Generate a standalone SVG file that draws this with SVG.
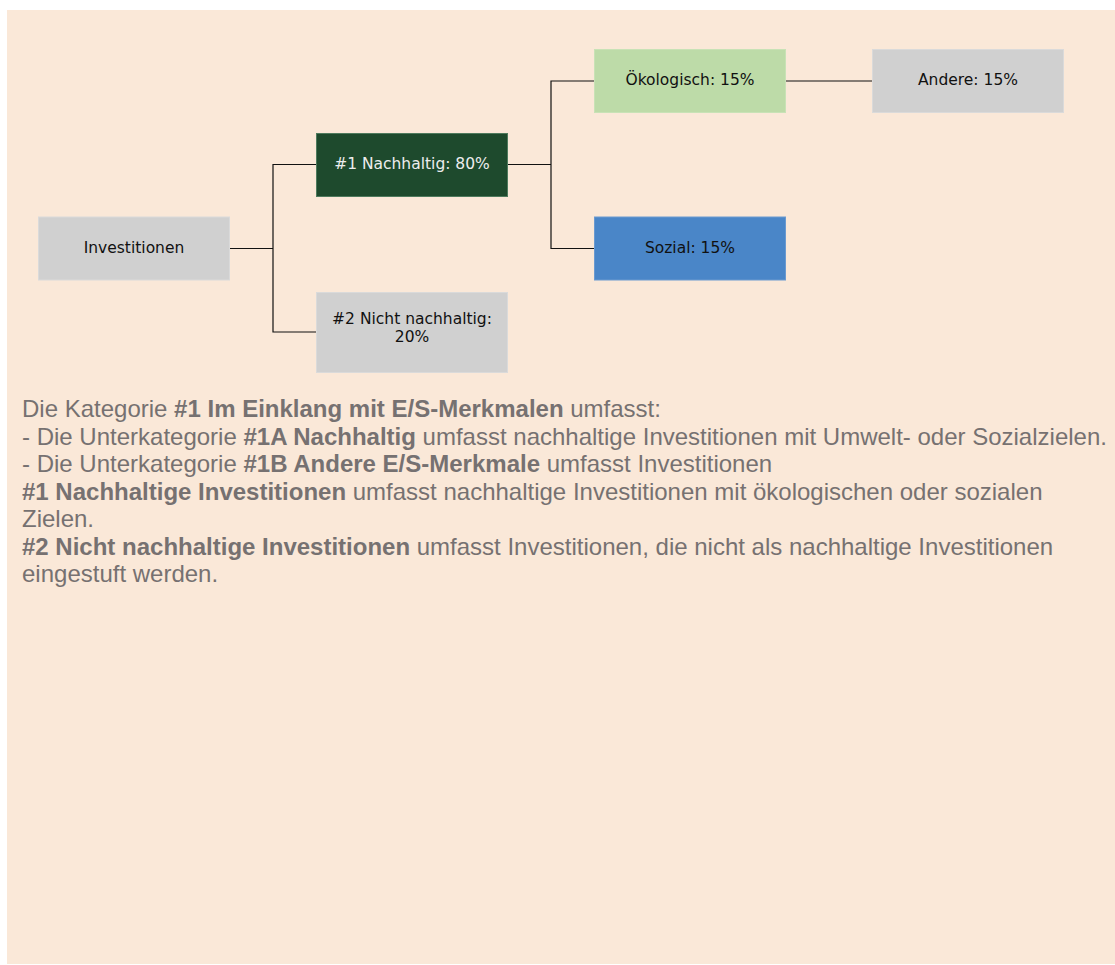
<svg xmlns="http://www.w3.org/2000/svg" width="1115" height="965" viewBox="0 0 1115 965">
<style>
.nt{font-family:"DejaVu Sans",Verdana,sans-serif;font-size:15.5px;text-anchor:middle;dominant-baseline:central;fill:#111}
.conn{stroke:#111;stroke-width:1.2;fill:none}
.body{font-family:"Liberation Sans",Arial,sans-serif;font-size:24px;fill:#767171}
.b{font-weight:bold}
</style>
<rect x="0" y="0" width="1115" height="965" fill="#ffffff"/>
<rect x="7" y="10" width="1108" height="954" fill="#FAE8D8"/>
<g id="connectors">
<polyline class="conn" points="229,248.5 273,248.5"/>
<polyline class="conn" points="317,164.5 273,164.5 273,332 317,332"/>
<polyline class="conn" points="507,164.5 551,164.5"/>
<polyline class="conn" points="595,81 551,81 551,248.5 595,248.5"/>
<polyline class="conn" points="785,81 873,81"/>
</g>
<g id="n-investitionen">
<rect x="38.5" y="217" width="191" height="63" fill="#D0D0D0" stroke="#DADADA"/>
<text class="nt" x="134" y="247.5">Investitionen</text>
</g>
<g id="n-nachhaltig">
<rect x="316.5" y="133.5" width="191" height="63" fill="#1E4A2D" stroke="#4E7A5D"/>
<text class="nt" x="412" y="164" style="fill:#EDEDED">#1 Nachhaltig: 80%</text>
</g>
<g id="n-nicht">
<rect x="316.5" y="292.5" width="191" height="80" fill="#D0D0D0" stroke="#DADADA"/>
<text class="nt" x="412" y="319">#2 Nicht nachhaltig:</text>
<text class="nt" x="412" y="336.5">20%</text>
</g>
<g id="n-oeko">
<rect x="594.5" y="49.5" width="191" height="63" fill="#BDDBA8" stroke="#C8E2B6"/>
<text class="nt" x="690" y="80">Ökologisch: 15%</text>
</g>
<g id="n-andere">
<rect x="872.5" y="49.5" width="191" height="63" fill="#D0D0D0" stroke="#DADADA"/>
<text class="nt" x="968" y="80">Andere: 15%</text>
</g>
<g id="n-sozial">
<rect x="594.5" y="217" width="191" height="63" fill="#4A86C8" stroke="#6A9AD0"/>
<text class="nt" x="690" y="247.5">Sozial: 15%</text>
</g>
<g id="legend">
<text class="body" x="22" y="417">Die Kategorie <tspan class="b">#1 Im Einklang mit E/S-Merkmalen</tspan> umfasst:</text>
<text class="body" x="22" y="444.5">- Die Unterkategorie <tspan class="b">#1A Nachhaltig</tspan> umfasst nachhaltige Investitionen mit Umwelt- oder Sozialzielen.</text>
<text class="body" x="22" y="472">- Die Unterkategorie <tspan class="b">#1B Andere E/S-Merkmale</tspan> umfasst Investitionen</text>
<text class="body" x="22" y="499.5"><tspan class="b">#1 Nachhaltige Investitionen</tspan> umfasst nachhaltige Investitionen mit ökologischen oder sozialen</text>
<text class="body" x="22" y="527">Zielen.</text>
<text class="body" x="22" y="554.5"><tspan class="b">#2 Nicht nachhaltige Investitionen</tspan> umfasst Investitionen, die nicht als nachhaltige Investitionen</text>
<text class="body" x="22" y="582">eingestuft werden.</text>
</g>
</svg>
